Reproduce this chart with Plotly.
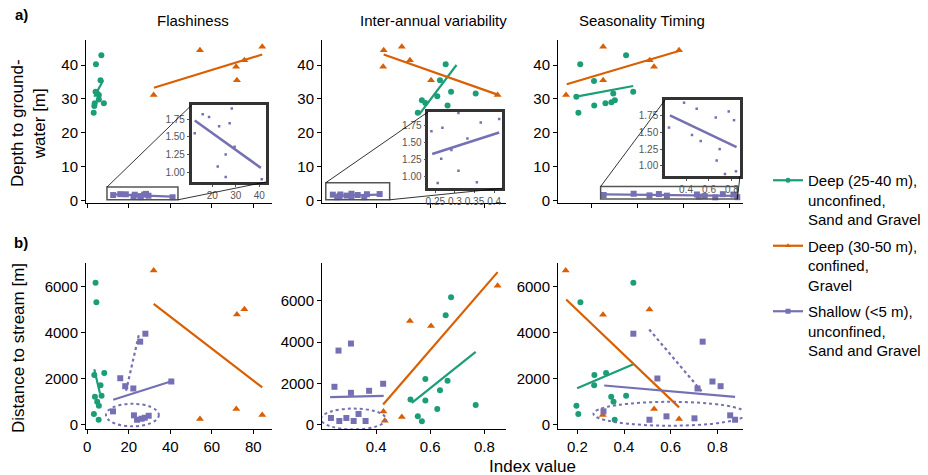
import plotly.graph_objects as go

TEAL, ORANGE, PURPLE = "#1b9e77", "#d95f02", "#7570b3"
FONT = "Liberation Sans, Arial, sans-serif"
W, H = 928, 475

# ---------------- data ----------------
group_names = ["Deep (25-40 m),<br>unconfined,<br>Sand and Gravel",
               "Deep (30-50 m),<br>confined,<br>Gravel",
               "Shallow (&lt;5 m),<br>unconfined,<br>Sand and Gravel"]
panel_titles = ["Flashiness", "Inter-annual variability", "Seasonality Timing"]

# a) depth to groundwater vs Flashiness
a1_teal_x = [6.8, 4.2, 6.4, 4.0, 5.6, 5.6, 3.6, 8.0, 3.1, 4.8, 3.4]
a1_teal_y = [42.9, 40.2, 35.5, 32.1, 31.1, 29.8, 28.7, 28.7, 25.9, 31.6, 27.9]
a1_orange_x = [32.0, 54.3, 71.7, 72.1, 75.7, 84.3]
a1_orange_y = [31.1, 44.4, 39.5, 35.5, 41.4, 45.4]
a1_purple_x = [12.5, 15.9, 18.6, 22.9, 28.3, 27.4, 29.5, 25.7, 22.3, 25.7, 41.1]
a1_purple_y = [1.55, 1.82, 1.78, 1.65, 1.90, 1.69, 1.36, 1.25, 1.08, 0.93, 0.90]
a1_fit_teal = ([3.4, 7.7], [30.6, 35.5])
a1_fit_orange = ([32.1, 84.3], [33.3, 43.1])
a1_fit_purple = ([12.5, 40.7], [1.73, 1.06])

# a) depth vs Inter-annual variability
a2_teal_x = [0.657, 0.636, 0.677, 0.626, 0.569, 0.582, 0.664, 0.768, 0.554]
a2_teal_y = [40.2, 35.5, 32.1, 30.8, 29.6, 28.8, 28.0, 31.6, 25.9]
a2_orange_x = [0.428, 0.495, 0.426, 0.525, 0.603, 0.849]
a2_orange_y = [44.4, 45.4, 39.5, 41.4, 35.5, 31.1]
a2_purple_x = [0.240, 0.268, 0.309, 0.366, 0.413, 0.332, 0.291, 0.265, 0.309, 0.256, 0.356]
a2_purple_y = [1.67, 1.72, 1.94, 1.80, 1.85, 1.56, 1.39, 1.26, 1.08, 0.90, 0.91]
a2_fit_teal = ([0.56, 0.697], [25.5, 40.0])
a2_fit_orange = ([0.428, 0.854], [43.1, 31.1])
a2_fit_purple = ([0.242, 0.413], [1.33, 1.65])

# a) depth vs Seasonality Timing
a3_teal_x = [0.150, 0.350, 0.210, 0.133, 0.294, 0.381, 0.301, 0.286, 0.260, 0.211, 0.142]
a3_teal_y = [40.2, 42.9, 35.3, 30.6, 31.6, 32.1, 29.6, 29.0, 28.7, 28.0, 25.9]
a3_orange_x = [0.088, 0.250, 0.250, 0.453, 0.472, 0.581]
a3_orange_y = [31.1, 45.4, 35.5, 41.4, 39.5, 44.4]
a3_purple_x = [0.252, 0.383, 0.493, 0.452, 0.528, 0.659, 0.772, 0.818, 0.693, 0.667, 0.739, 0.835]
a3_purple_y = [1.57, 1.94, 1.85, 1.46, 1.37, 1.72, 1.81, 1.68, 1.25, 1.08, 0.88, 0.92]
a3_fit_teal = ([0.127, 0.381], [30.6, 33.8])
a3_fit_orange = ([0.091, 0.584], [34.3, 44.2])
a3_fit_purple = ([0.26, 0.84], [1.75, 1.28])

# b) distance to stream vs Flashiness
b1_teal_x = [4.0, 4.4, 3.4, 8.2, 3.7, 6.9, 4.8, 5.6, 3.2, 5.5, 6.4]
b1_teal_y = [6158, 5310, 2158, 2244, 1209, 1252, 993, 820, 462, 216, 1713]
b1_orange_x = [32.0, 72.1, 75.7, 54.3, 71.8, 84.3]
b1_orange_y = [6690, 4778, 5007, 246, 678, 419]
b1_purple_x = [15.9, 18.3, 22.2, 25.5, 28.0, 40.5, 12.4, 22.5, 24.0, 26.2, 27.7, 29.6]
b1_purple_y = [2015, 1670, 1571, 3600, 3945, 1873, 578, 406, 216, 259, 302, 388]
b1_fit_teal = ([3.4, 6.1], [2404, 1368])
b1_fit_orange = ([32.0, 84.3], [5240, 1614])
b1_fit_purple = ([12.5, 40.2], [1079, 1873])
b1_fit_purple_sub = ([18.7, 25.1], [1468, 3988])
b1_ellipse = (9.0, 34.5, -70, 908)

# b) distance vs Inter-annual variability
b2_teal_x = [0.677, 0.657, 0.582, 0.664, 0.636, 0.527, 0.582, 0.626, 0.768, 0.554, 0.569]
b2_teal_y = [6179, 5301, 2211, 2130, 1675, 1220, 1171, 764, 959, 407, 163]
b2_orange_x = [0.525, 0.603, 0.849, 0.427, 0.432, 0.495]
b2_orange_y = [5024, 4780, 6732, 634, 195, 374]
b2_purple_x = [0.246, 0.261, 0.307, 0.307, 0.374, 0.426, 0.233, 0.264, 0.290, 0.317, 0.335, 0.361]
b2_purple_y = [1837, 3593, 3934, 1545, 1643, 1984, 325, 179, 325, 179, 520, 179]
b2_fit_teal = ([0.532, 0.768], [1057, 3528])
b2_fit_orange = ([0.426, 0.849], [976, 7398])
b2_fit_purple = ([0.230, 0.428], [1333, 1400])
b2_ellipse = (0.196, 0.436, -230, 780)

# b) distance vs Seasonality Timing
b3_teal_x = [0.440, 0.213, 0.273, 0.323, 0.272, 0.196, 0.204, 0.345, 0.355, 0.409, 0.360]
b3_teal_y = [6158, 5309, 2158, 2244, 1713, 820, 462, 1209, 993, 1252, 216]
b3_orange_x = [0.150, 0.310, 0.509, 0.529, 0.309, 0.636]
b3_orange_y = [6690, 4763, 4993, 678, 419, 246]
b3_purple_x = [0.440, 0.737, 0.543, 0.715, 0.779, 0.814, 0.312, 0.509, 0.582, 0.702, 0.855, 0.876]
b3_purple_y = [3945, 3600, 2003, 1571, 1873, 1670, 578, 216, 362, 276, 406, 216]
b3_fit_teal = ([0.199, 0.440], [1584, 2620])
b3_fit_orange = ([0.152, 0.636], [5425, 750])
b3_fit_purple = ([0.315, 0.876], [1700, 1209])
b3_fit_purple_sub = ([0.508, 0.737], [4130, 1398])
b3_ellipse = (0.269, 0.925, -43, 993)

# zoom boxes (x0, x1, y0, y1) in main panel data coords
zoom_boxes = [(9.5, 43.7, 0.15, 3.9), (0.214, 0.45, 0.15, 5.2), (0.239, 0.835, 0.35, 4.07)]

# ticks
flash_ticks = [0, 20, 40, 60, 80]
iav_ticks = [0.4, 0.6, 0.8]
seas_ticks = [0.2, 0.4, 0.6, 0.8]
depth_ticks = [0, 10, 20, 30, 40]
dist_ticks = [0, 2000, 4000, 6000]

# ---------------- layout geometry ----------------
def px_dom_x(a, b):
    return [a / W, b / W]

def px_dom_y(top, bottom):
    return [1 - bottom / H, 1 - top / H]

COLS = [px_dom_x(86, 272), px_dom_x(322, 506), px_dom_x(558, 743)]
ROW_T = px_dom_y(40, 203)
ROW_B = px_dom_y(263, 429)

XR = {1: [-0.6, 89.0], 2: [0.2, 0.88], 3: [0.053, 0.86],
      4: [-0.6, 89.0], 5: [0.2, 0.88], 6: [0.117, 0.91]}
YR = {1: [-0.8, 47.4], 2: [-0.8, 47.4], 3: [-0.8, 47.4],
      4: [-186, 7010], 5: [-210, 7840], 6: [-186, 7010]}
XT = {1: flash_ticks, 2: iav_ticks, 3: seas_ticks, 4: flash_ticks, 5: iav_ticks, 6: seas_ticks}

INSETS = {
    7: dict(dx=px_dom_x(191.7, 266), dy=px_dom_y(105, 182), xr=[11.2, 42.9], yr=[0.86, 1.95],
            xt=[20, 30, 40], xl=["20", "30", "40"]),
    8: dict(dx=px_dom_x(428.3, 502.3), dy=px_dom_y(111.7, 188.3), xr=[0.232, 0.421], yr=[0.82, 1.96],
            xt=[0.25, 0.3, 0.35, 0.4], xl=["0.25", "0.3", "0.35", "0.4"]),
    9: dict(dx=px_dom_x(665, 740), dy=px_dom_y(100, 176), xr=[0.217, 0.87], yr=[0.85, 1.98],
            xt=[0.4, 0.6, 0.8], xl=["0.4", "0.6", "0.8"]),
}

fig = go.Figure()

def ax(n):
    return ("x" if n == 1 else f"x{n}"), ("y" if n == 1 else f"y{n}")

# legend entries
for name, col, sym in zip(group_names, [TEAL, ORANGE, PURPLE], ["circle", "triangle-up", "square"]):
    fig.add_trace(go.Scatter(x=[None], y=[None], mode="lines+markers", name=name, legendgroup=name,
                             line=dict(color=col, width=2.2), marker=dict(color=col, size=5, symbol=sym),
                             showlegend=True, xaxis="x", yaxis="y"))

def pts(n, x, y, col, sym, size):
    xa, ya = ax(n)
    fig.add_trace(go.Scatter(x=x, y=y, mode="markers", xaxis=xa, yaxis=ya, showlegend=False,
                             marker=dict(color=col, symbol=sym, size=size, line=dict(width=0)),
                             cliponaxis=False, hoverinfo="skip"))

def fit(n, xy, col, dash="solid", width=2.2):
    xa, ya = ax(n)
    fig.add_trace(go.Scatter(x=xy[0], y=xy[1], mode="lines", xaxis=xa, yaxis=ya, showlegend=False,
                             line=dict(color=col, width=width, dash=dash), hoverinfo="skip"))

panels = [
    (1, a1_teal_x, a1_teal_y, a1_orange_x, a1_orange_y, a1_purple_x, a1_purple_y, a1_fit_teal, a1_fit_orange, a1_fit_purple),
    (2, a2_teal_x, a2_teal_y, a2_orange_x, a2_orange_y, a2_purple_x, a2_purple_y, a2_fit_teal, a2_fit_orange, a2_fit_purple),
    (3, a3_teal_x, a3_teal_y, a3_orange_x, a3_orange_y, a3_purple_x, a3_purple_y, a3_fit_teal, a3_fit_orange, a3_fit_purple),
    (4, b1_teal_x, b1_teal_y, b1_orange_x, b1_orange_y, b1_purple_x, b1_purple_y, b1_fit_teal, b1_fit_orange, b1_fit_purple),
    (5, b2_teal_x, b2_teal_y, b2_orange_x, b2_orange_y, b2_purple_x, b2_purple_y, b2_fit_teal, b2_fit_orange, b2_fit_purple),
    (6, b3_teal_x, b3_teal_y, b3_orange_x, b3_orange_y, b3_purple_x, b3_purple_y, b3_fit_teal, b3_fit_orange, b3_fit_purple),
]
for n, tx, ty, ox, oy, px, py, ft, fo, fp in panels:
    pts(n, tx, ty, TEAL, "circle", 6)
    pts(n, ox, oy, ORANGE, "triangle-up", 7)
    pts(n, px, py, PURPLE, "square", 6)
    fit(n, ft, TEAL)
    fit(n, fo, ORANGE)
    fit(n, fp, PURPLE)

fit(4, b1_fit_purple_sub, PURPLE, dash="dot", width=2.2)
fit(6, b3_fit_purple_sub, PURPLE, dash="dot", width=2.2)

# inset contents
for n, (ix, iy, ifit) in zip([7, 8, 9], [(a1_purple_x, a1_purple_y, a1_fit_purple),
                                         (a2_purple_x, a2_purple_y, a2_fit_purple),
                                         (a3_purple_x, a3_purple_y, a3_fit_purple)]):
    xa, ya = ax(n)
    fig.add_trace(go.Scatter(x=ix, y=iy, mode="markers", xaxis=xa, yaxis=ya, showlegend=False,
                             marker=dict(color=PURPLE, symbol="square", size=2.5), hoverinfo="skip"))
    fig.add_trace(go.Scatter(x=ifit[0], y=ifit[1], mode="lines", xaxis=xa, yaxis=ya, showlegend=False,
                             line=dict(color=PURPLE, width=2.5), hoverinfo="skip"))

# ---------------- axes ----------------
tickfont = dict(size=15, color="black", family=FONT)
layout_axes = {}
for n in range(1, 7):
    xa, ya = ax(n)
    xkey = "xaxis" if n == 1 else f"xaxis{n}"
    ykey = "yaxis" if n == 1 else f"yaxis{n}"
    col = COLS[(n - 1) % 3]
    row = ROW_T if n <= 3 else ROW_B
    layout_axes[xkey] = dict(domain=col, anchor=ya, range=XR[n], tickvals=XT[n],
                             showticklabels=(n > 3), showline=True, linecolor="black", linewidth=1,
                             ticks="outside", ticklen=4, tickwidth=1, tickcolor="black",
                             showgrid=False, zeroline=False, tickfont=tickfont, automargin=False)
    layout_axes[ykey] = dict(domain=row, anchor=xa, range=YR[n],
                             tickvals=depth_ticks if n <= 3 else dist_ticks,
                             showline=True, linecolor="black", linewidth=1,
                             ticks="outside", ticklen=4, tickwidth=1, tickcolor="black",
                             showgrid=False, zeroline=False, tickfont=tickfont, automargin=False)

insfont = dict(size=10, color="#555555", family=FONT)
for n, d in INSETS.items():
    layout_axes[f"xaxis{n}"] = dict(domain=d["dx"], anchor=f"y{n}", range=d["xr"], tickvals=d["xt"],
                                    ticktext=d["xl"], showline=True, mirror=True, linecolor="#333333",
                                    linewidth=2.5, ticks="outside", ticklen=2, tickcolor="#555555",
                                    showgrid=False, zeroline=False, tickfont=insfont, automargin=False)
    layout_axes[f"yaxis{n}"] = dict(domain=d["dy"], anchor=f"x{n}", range=d["yr"],
                                    tickvals=[1.0, 1.25, 1.5, 1.75], tickformat=".2f",
                                    showline=True, mirror=True, linecolor="#333333",
                                    linewidth=2.5, ticks="outside", ticklen=2, tickcolor="#555555",
                                    showgrid=False, zeroline=False, tickfont=insfont, automargin=False)

# ---------------- shapes ----------------
def to_paper(n, x, y):
    dx = COLS[(n - 1) % 3]
    dy = ROW_T if n <= 3 else ROW_B
    xr, yr = XR[n], YR[n]
    px = dx[0] + (x - xr[0]) / (xr[1] - xr[0]) * (dx[1] - dx[0])
    py = dy[0] + (y - yr[0]) / (yr[1] - yr[0]) * (dy[1] - dy[0])
    return px, py

shapes = []
for n, box, ins in zip([1, 2, 3], zoom_boxes, [7, 8, 9]):
    xa, ya = ax(n)
    x0, x1, y0, y1 = box
    shapes.append(dict(type="rect", xref=xa, yref=ya, x0=x0, x1=x1, y0=y0, y1=y1,
                       line=dict(color="#555555", width=1.5), fillcolor="rgba(0,0,0,0)", layer="above"))
    d = INSETS[ins]
    tlx, tly = to_paper(n, x0, y1)
    brx, bry = to_paper(n, x1, y0)
    shapes.append(dict(type="line", xref="paper", yref="paper", x0=tlx, y0=tly, x1=d["dx"][0], y1=d["dy"][1],
                       line=dict(color="black", width=0.8), layer="above"))
    shapes.append(dict(type="line", xref="paper", yref="paper", x0=brx, y0=bry, x1=d["dx"][1], y1=d["dy"][0],
                       line=dict(color="black", width=0.8), layer="above"))

for n, e in zip([4, 5, 6], [b1_ellipse, b2_ellipse, b3_ellipse]):
    xa, ya = ax(n)
    shapes.append(dict(type="circle", xref=xa, yref=ya, x0=e[0], x1=e[1], y0=e[2], y1=e[3],
                       line=dict(color=PURPLE, width=2, dash="dot"), fillcolor="rgba(0,0,0,0)"))

# ---------------- annotations ----------------
def ann(text, x, y, size=15, angle=0, bold=False, xanchor="center"):
    return dict(text=f"<b>{text}</b>" if bold else text, x=x / W, y=1 - y / H, xref="paper", yref="paper",
                showarrow=False, textangle=angle, xanchor=xanchor, yanchor="middle",
                font=dict(size=size, color="black", family=FONT))

annotations = [
    ann("a)", 21, 15, size=15, bold=True),
    ann("b)", 21, 243, size=15, bold=True),
    ann(panel_titles[0], 193, 20),
    ann(panel_titles[1], 433, 20),
    ann(panel_titles[2], 642, 20),
    ann("Depth to ground-<br>water [m]", 29, 123, size=17, angle=-90),
    ann("Distance to stream [m]", 18, 348, size=17, angle=-90),
    ann("Index value", 532, 466, size=17),
]

fig.update_layout(
    width=W, height=H, autosize=False,
    margin=dict(l=0, r=0, t=0, b=0),
    paper_bgcolor="white", plot_bgcolor="white",
    font=dict(family=FONT, color="black"),
    showlegend=True,
    legend=dict(x=768 / W, xanchor="left", y=1 - 164 / H, yanchor="top", valign="top",
                font=dict(size=15, color="black", family=FONT), bgcolor="rgba(0,0,0,0)",
                tracegroupgap=4, itemwidth=30),
    shapes=shapes, annotations=annotations,
    **layout_axes,
)

fig.write_html("out.html")
